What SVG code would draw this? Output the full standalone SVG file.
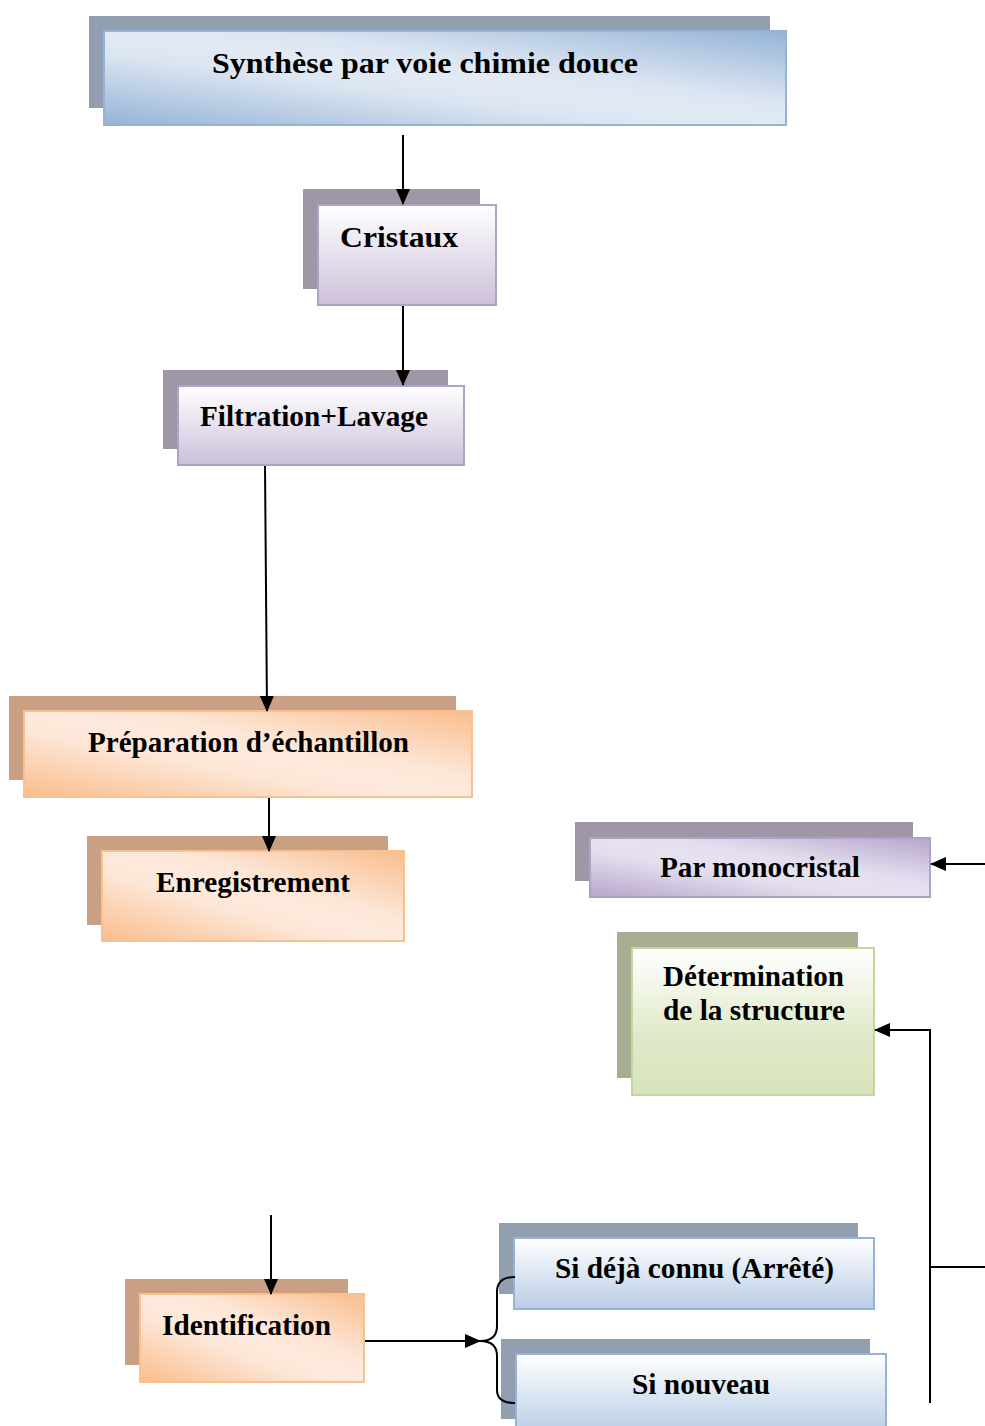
<svg xmlns="http://www.w3.org/2000/svg" width="985" height="1426" viewBox="0 0 985 1426">
<defs>
<linearGradient id="gBlueD" x1="0" y1="1" x2="1" y2="0"><stop offset="0" stop-color="#95b3d7"/><stop offset="0.38" stop-color="#dbe5f1"/><stop offset="0.5" stop-color="#e2eaf4"/><stop offset="0.62" stop-color="#dbe5f1"/><stop offset="1" stop-color="#95b3d7"/></linearGradient>
<linearGradient id="gOrD" x1="0" y1="1" x2="1" y2="0"><stop offset="0" stop-color="#f9bd8c"/><stop offset="0.38" stop-color="#fde6d6"/><stop offset="0.5" stop-color="#fdeadd"/><stop offset="0.62" stop-color="#fde6d6"/><stop offset="1" stop-color="#f9bd8c"/></linearGradient>
<linearGradient id="gPuD" x1="0" y1="1" x2="1" y2="0"><stop offset="0" stop-color="#b6a5cc"/><stop offset="0.38" stop-color="#e3dded"/><stop offset="0.5" stop-color="#e7e2ef"/><stop offset="0.62" stop-color="#e3dded"/><stop offset="1" stop-color="#b6a5cc"/></linearGradient>
<linearGradient id="gPuV" x1="0" y1="0" x2="0" y2="1"><stop offset="0" stop-color="#ffffff"/><stop offset="1" stop-color="#ccc0da"/></linearGradient>
<linearGradient id="gBlV" x1="0" y1="0" x2="0" y2="1"><stop offset="0" stop-color="#ffffff"/><stop offset="1" stop-color="#b9cde5"/></linearGradient>
<linearGradient id="gGrV" x1="0" y1="0" x2="0" y2="1"><stop offset="0" stop-color="#ffffff"/><stop offset="0.6" stop-color="#dfe9c9"/><stop offset="1" stop-color="#d7e4bd"/></linearGradient>
<marker id="ah" markerWidth="16" markerHeight="14" viewBox="0 0 16 14" refX="15" refY="7" orient="auto" markerUnits="userSpaceOnUse"><path d="M0,0 L16,7 L0,14 z" fill="#000"/></marker>
</defs>
<style>
.t{font-family:"Liberation Serif","Times New Roman",serif;font-weight:bold;fill:#000;font-size:29px}
.shB{fill:#929fb0}.shP{fill:#9f97a8}.shO{fill:#c9a083}.shG{fill:#a7ae94}
.bB{stroke:#95b3d7;stroke-width:2}.bP{stroke:#b2a1c7;stroke-width:2}.bO{stroke:#fac090;stroke-width:2}.bG{stroke:#c3d69b;stroke-width:2}
.c{stroke:#000;stroke-width:2;fill:none}
</style>
<rect width="985" height="1426" fill="#fff"/>
<g id="n-synthese">
<rect class="shB" x="89" y="16" width="681" height="92"/>
<rect class="bB" x="104" y="31" width="682" height="94" fill="url(#gBlueD)"/>
<text class="t" x="212" y="73" font-size="30" textLength="426" lengthAdjust="spacingAndGlyphs">Synthèse par voie chimie douce</text>
</g>
<g id="n-cristaux">
<rect class="shP" x="303" y="189" width="177" height="100"/>
<rect class="bP" x="318" y="205" width="178" height="100" fill="url(#gPuV)"/>
<text class="t" x="340" y="247" font-size="31" textLength="118" lengthAdjust="spacingAndGlyphs">Cristaux</text>
</g>
<g id="n-filtration">
<rect class="shP" x="163" y="370" width="285" height="79"/>
<rect class="bP" x="178" y="386" width="286" height="79" fill="url(#gPuV)"/>
<text class="t" x="200" y="426" textLength="228" lengthAdjust="spacingAndGlyphs">Filtration+Lavage</text>
</g>
<g id="n-preparation">
<rect class="shO" x="9" y="696" width="447" height="84"/>
<rect class="bO" x="24" y="711" width="448" height="86" fill="url(#gOrD)"/>
<text class="t" x="88" y="752" textLength="321" lengthAdjust="spacingAndGlyphs">Préparation d’échantillon</text>
</g>
<g id="n-enregistrement">
<rect class="shO" x="87" y="836" width="301" height="89"/>
<rect class="bO" x="102" y="851" width="302" height="90" fill="url(#gOrD)"/>
<text class="t" x="156" y="892" textLength="194" lengthAdjust="spacingAndGlyphs">Enregistrement</text>
</g>
<g id="n-monocristal">
<rect class="shP" x="575" y="822" width="338" height="59"/>
<rect class="bP" x="590" y="838" width="340" height="59" fill="url(#gPuD)"/>
<text class="t" x="660" y="877" textLength="200" lengthAdjust="spacingAndGlyphs">Par monocristal</text>
</g>
<g id="n-determination">
<rect class="shG" x="617" y="932" width="241" height="146"/>
<rect class="bG" x="632" y="948" width="242" height="147" fill="url(#gGrV)"/>
<text class="t" x="663" y="986" textLength="181" lengthAdjust="spacingAndGlyphs">Détermination</text>
<text class="t" x="663" y="1020" textLength="182" lengthAdjust="spacingAndGlyphs">de la structure</text>
</g>
<g id="n-identification">
<rect class="shO" x="125" y="1279" width="223" height="86"/>
<rect class="bO" x="140" y="1294" width="224" height="88" fill="url(#gOrD)"/>
<text class="t" x="162" y="1335" textLength="169" lengthAdjust="spacingAndGlyphs">Identification</text>
</g>
<g id="n-connu">
<rect class="shB" x="499" y="1223" width="359" height="71"/>
<rect class="bB" x="514" y="1238" width="360" height="71" fill="url(#gBlV)"/>
<text class="t" x="555" y="1278" textLength="279" lengthAdjust="spacingAndGlyphs">Si déjà connu (Arrêté)</text>
</g>
<g id="n-nouveau">
<rect class="shB" x="501" y="1339" width="369" height="80"/>
<rect class="bB" x="516" y="1354" width="370" height="80" fill="url(#gBlV)"/>
<text class="t" x="632" y="1394" textLength="138" lengthAdjust="spacingAndGlyphs">Si nouveau</text>
</g>
<g id="connectors">
<line class="c" x1="403" y1="135" x2="403" y2="204" marker-end="url(#ah)"/>
<line class="c" x1="403" y1="306" x2="403" y2="385" marker-end="url(#ah)"/>
<line class="c" x1="265" y1="466" x2="267" y2="711" marker-end="url(#ah)"/>
<line class="c" x1="269" y1="798" x2="269" y2="851" marker-end="url(#ah)"/>
<line class="c" x1="271" y1="1215" x2="271" y2="1294" marker-end="url(#ah)"/>
<line class="c" x1="985" y1="864" x2="931" y2="864" marker-end="url(#ah)"/>
<polyline class="c" points="930,1403 930,1030 875,1030" marker-end="url(#ah)"/>
<line class="c" x1="930" y1="1267" x2="985" y2="1267"/>
<line class="c" x1="365" y1="1341" x2="480" y2="1341" marker-end="url(#ah)"/>
<path class="c" d="M515,1277 Q497,1277 497,1292 L497,1326 Q497,1341 480,1341 Q497,1341 497,1356 L497,1390 Q497,1403 515,1403"/>
</g>
</svg>
